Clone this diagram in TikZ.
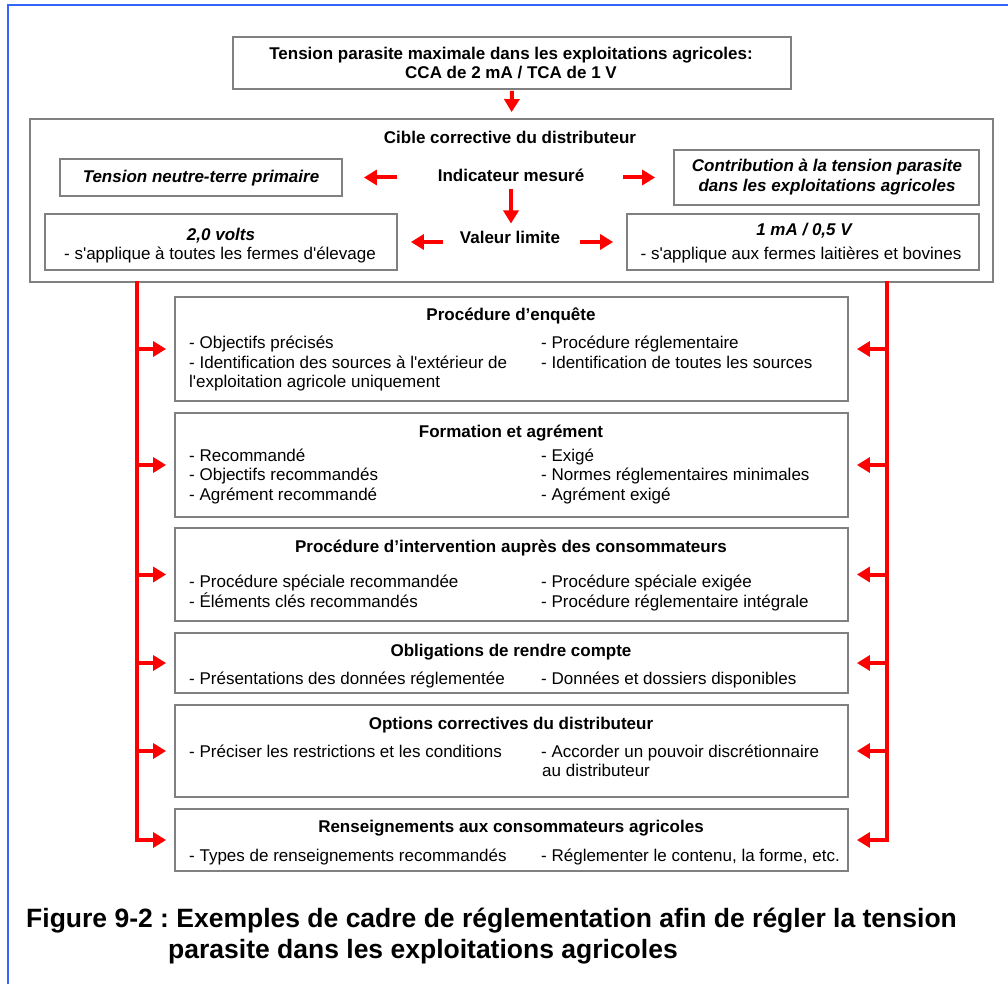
\documentclass[tikz,border=0pt]{standalone}
\usepackage{fontspec}
\setmainfont{Liberation Sans}
\usetikzlibrary{arrows.meta}
\definecolor{bframe}{RGB}{51,102,255}
\definecolor{boxgray}{RGB}{128,128,128}
\definecolor{ared}{RGB}{255,0,0}
\newcommand{\bodyfont}{\fontsize{17}{19}\selectfont}
\newcommand{\sq}{\XeTeXglyph\XeTeXglyphindex "quotesingle"\relax}
\frenchspacing
\begin{document}
\begin{tikzpicture}[x=1pt,y=-1pt,
  box/.style={draw=boxgray, line width=1.8pt, fill=white, inner sep=0pt},
  txt/.style={inner sep=0pt, font=\bodyfont},
  btxt/.style={inner sep=0pt, font=\bodyfont\bfseries},
  bitxt/.style={inner sep=0pt, font=\bodyfont\bfseries\itshape},
  captxt/.style={inner sep=0pt, font=\fontsize{26.5}{32}\selectfont\bfseries, anchor=base west},
  redarrow/.style={draw=ared, line width=4pt, -{Triangle[length=13pt,width=15pt]}}
]
\useasboundingbox (0,0) rectangle (1008,984);
\fill[white] (0,0) rectangle (1008,984);
% blue frame
\draw[bframe, line width=2pt] (7.5,984) -- (7.5,5.5) -- (1008,5.5);

% top box
\node[box, minimum width=558pt, minimum height=52pt] (top) at (512,63) {};
\node[btxt, anchor=base] (t1) at (511,59.5) {Tension parasite maximale dans les exploitations agricoles:};
\node[btxt, anchor=base] (t2) at (511,78.5) {CCA de 2 mA / TCA de 1 V};

% big box
\node[box, minimum width=963pt, minimum height=163pt] (big) at (511.5,200.5) {};
\node[btxt, anchor=base] (cible) at (510,143.5) {Cible corrective du distributeur};
\node[btxt, anchor=base] (ind) at (511,181.5) {Indicateur mesuré};
\node[btxt, anchor=base] (val) at (510,243.5) {Valeur limite};

\node[box, minimum width=282pt, minimum height=37pt] (neutral) at (201,177.5) {};
\node[bitxt, anchor=base] (neutralt) at (201,182.5) {Tension neutre-terre primaire};

\node[box, minimum width=305pt, minimum height=55pt] (contrib) at (826.5,177.5) {};
\node[bitxt, anchor=base] (contrib1) at (827,171.5) {Contribution à la tension parasite};
\node[bitxt, anchor=base] (contrib2) at (827,192) {dans les exploitations agricoles};

\node[box, minimum width=352pt, minimum height=56pt] (volts) at (221,242) {};
\node[bitxt, anchor=base] (volts1) at (221,240.5) {2,0 volts};
\node[txt, anchor=base] (volts2) at (220,259.5) {- s\sq applique à toutes les fermes d\sq élevage};

\node[box, minimum width=352pt, minimum height=56pt] (ma) at (803,242) {};
\node[bitxt, anchor=base] (ma1) at (804,236) {1 mA / 0,5 V};
\node[txt, anchor=base] (ma2) at (801,259.5) {- s\sq applique aux fermes laitières et bovines};

% arrows in the upper part
\draw[redarrow, shorten >=6pt, shorten <=1pt] (top.south) -- (big.north);
\draw[redarrow, shorten <=41pt, shorten >=21pt] (ind.west |- neutral.east) -- (neutral.east);
\draw[redarrow, shorten <=39pt, shorten >=18pt] (ind.east |- contrib.west) -- (contrib.west);
\draw[redarrow, shorten <=8pt, shorten >=20pt] (ind.base) -- (val.base -| ind.base);
\draw[redarrow, shorten <=17pt, shorten >=13pt] (val.west |- volts.east) -- (volts.east);
\draw[redarrow, shorten <=20pt, shorten >=13pt] (val.east |- ma.west) -- (ma.west);

% lower boxes
\node[box, minimum width=673pt, minimum height=104pt] (b1) at (511.5,349) {};
\node[box, minimum width=673pt, minimum height=104pt] (b2) at (511.5,465) {};
\node[box, minimum width=673pt, minimum height=93pt] (b3) at (511.5,574.5) {};
\node[box, minimum width=673pt, minimum height=60pt] (b4) at (511.5,663) {};
\node[box, minimum width=673pt, minimum height=92pt] (b5) at (511.5,751) {};
\node[box, minimum width=673pt, minimum height=62pt] (b6) at (511.5,840) {};

% box 1
\node[btxt, anchor=base] (b1t) at (511,320.5) {Procédure d’enquête};
\node[txt, anchor=base west] (b1a) at (189,348.7) {- Objectifs précisés};
\node[txt, anchor=base west] (b1b) at (189,368) {- Identification des sources à l\sq extérieur de};
\node[txt, anchor=base west] (b1c) at (189,387.3) {l\sq exploitation agricole uniquement};
\node[txt, anchor=base west] (b1d) at (541,348.7) {- Procédure réglementaire};
\node[txt, anchor=base west] (b1e) at (541,368) {- Identification de toutes les sources};

% box 2
\node[btxt, anchor=base] (b2t) at (511,437) {Formation et agrément};
\node[txt, anchor=base west] (b2a) at (189,461) {- Recommandé};
\node[txt, anchor=base west] (b2b) at (189,480.7) {- Objectifs recommandés};
\node[txt, anchor=base west] (b2c) at (189,500) {- Agrément recommandé};
\node[txt, anchor=base west] (b2d) at (541,461) {- Exigé};
\node[txt, anchor=base west] (b2e) at (541,480.7) {- Normes réglementaires minimales};
\node[txt, anchor=base west] (b2f) at (541,500) {- Agrément exigé};

% box 3
\node[btxt, anchor=base] (b3t) at (511,552.3) {Procédure d’intervention auprès des consommateurs};
\node[txt, anchor=base west] (b3a) at (189,587.5) {- Procédure spéciale recommandée};
\node[txt, anchor=base west] (b3b) at (189,607) {- Éléments clés recommandés};
\node[txt, anchor=base west] (b3c) at (541,587.5) {- Procédure spéciale exigée};
\node[txt, anchor=base west] (b3d) at (541,607) {- Procédure réglementaire intégrale};

% box 4
\node[btxt, anchor=base] (b4t) at (511,656.7) {Obligations de rendre compte};
\node[txt, anchor=base west] (b4a) at (189,684) {- Présentations des données réglementée};
\node[txt, anchor=base west] (b4b) at (541,684) {- Données et dossiers disponibles};

% box 5
\node[btxt, anchor=base] (b5t) at (511,729.3) {Options correctives du distributeur};
\node[txt, anchor=base west] (b5a) at (189,757.7) {- Préciser les restrictions et les conditions};
\node[txt, anchor=base west] (b5b) at (541,757.7) {- Accorder un pouvoir discrétionnaire};
\node[txt, anchor=base west] (b5c) at (542,776.7) {au distributeur};

% box 6
\node[btxt, anchor=base] (b6t) at (511,832.7) {Renseignements aux consommateurs agricoles};
\node[txt, anchor=base west] (b6a) at (189,861.7) {- Types de renseignements recommandés};
\node[txt, anchor=base west] (b6b) at (541,861.7) {- Réglementer le contenu, la forme, etc.};

% side red lines
\coordinate (Ltop) at (137,281);
\coordinate (Rtop) at (887,281);
\draw[redarrow, shorten >=8pt] (Ltop) |- (b6.west);
\draw[redarrow, shorten >=8pt] (Rtop) |- (b6.east);
\foreach \b in {b1,b2,b3,b4,b5}{
  \draw[redarrow, shorten >=8pt] (Ltop |- \b.west) -- (\b.west);
  \draw[redarrow, shorten >=8pt] (Rtop |- \b.east) -- (\b.east);
}

% caption
\node[captxt] (cap1) at (26,927) {Figure 9-2 : Exemples de cadre de réglementation afin de régler la tension};
\node[captxt] (cap2) at (168,958) {parasite dans les exploitations agricoles};
\end{tikzpicture}
\end{document}
